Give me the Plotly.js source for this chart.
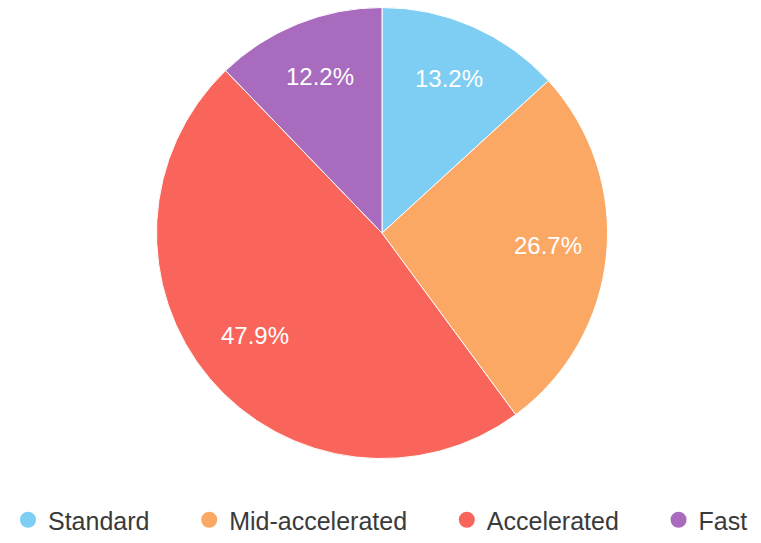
<!DOCTYPE html>
<html>
<head>
<meta charset="utf-8">
<script src="https://cdn.plot.ly/plotly-3.0.1.min.js"></script>
<style>html,body{margin:0;padding:0;background:#fff;}#chart{width:761px;height:543px;}</style>
</head>
<body>
<div id="chart"></div>
<script>
const categories = ["Standard", "Mid-accelerated", "Accelerated", "Fast"];
const shares = [13.2, 26.7, 47.9, 12.2];
const colors = ["#7ecef4", "#fca865", "#f9655a", "#a86bbd"];

const W = 761, H = 543;
const domX = [0.004, 1.0];
const domY = [0.146, 0.986];
const cxPx = (domX[0] + domX[1]) / 2 * W;
const cyPx = 232;
const R = 225;
const labelR = 0.74 * R;

const total = shares.reduce((a, b) => a + b, 0);
let cum = 0;
const annotations = shares.map((v) => {
  const mid = (cum + v / 2) / total;
  cum += v;
  const th = 2 * Math.PI * mid;
  const px = cxPx + labelR * Math.sin(th);
  const py = cyPx - labelR * Math.cos(th);
  return {
    x: px / W, y: 1 - py / H, xref: "paper", yref: "paper",
    text: (v / total * 100).toFixed(1) + "%",
    showarrow: false,
    font: {family: "Liberation Sans, Arial, sans-serif", size: 24, color: "#ffffff"},
    xanchor: "center", yanchor: "middle"
  };
});

const traces = [{
  type: "pie",
  labels: categories,
  values: shares,
  sort: false,
  direction: "clockwise",
  rotation: 0,
  textinfo: "none",
  hoverinfo: "label+percent",
  showlegend: false,
  marker: {colors: colors, line: {color: "#ffffff", width: 1}},
  domain: {x: domX, y: domY}
}];

const pad = "\u00a0\u00a0\u00a0\u00a0\u00a0";
categories.forEach((c, i) => {
  traces.push({
    type: "scatter", mode: "markers", x: [null], y: [null],
    name: i < categories.length - 1 ? c + pad : c,
    marker: {color: colors[i], size: 16, symbol: "circle"},
    showlegend: true, hoverinfo: "skip"
  });
});

const layout = {
  width: W, height: H,
  margin: {l: 0, r: 0, t: 0, b: 0},
  paper_bgcolor: "#ffffff", plot_bgcolor: "#ffffff",
  xaxis: {visible: false}, yaxis: {visible: false},
  showlegend: true,
  legend: {
    orientation: "h", x: 0.5, xanchor: "center", y: 0.031, yanchor: "middle",
    font: {family: "Liberation Sans, Arial, sans-serif", size: 25, color: "#3a3a3a"}
  },
  annotations: annotations
};

Plotly.newPlot("chart", traces, layout, {displayModeBar: false, staticPlot: true});
</script>
</body>
</html>
